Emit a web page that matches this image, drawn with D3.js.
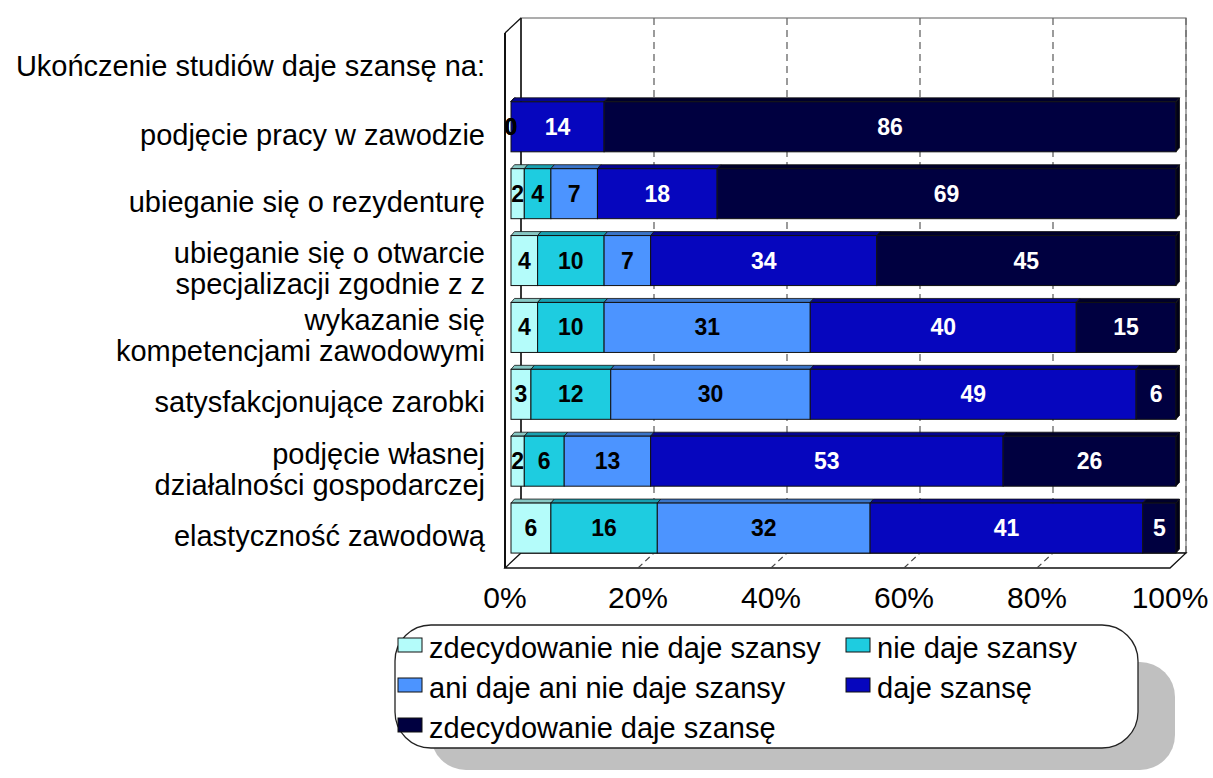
<!DOCTYPE html>
<html>
<head>
<meta charset="utf-8">
<script src="https://cdn.jsdelivr.net/npm/d3@7"></script>
<style>
  body { margin: 0; background: #fff; }
  svg { display: block; font-family: "Liberation Sans", Arial, sans-serif; }
</style>
</head>
<body>
<svg id="chart" width="1213" height="778"></svg>
<script>
// header row sits in the first band, bars in the other seven
const headerLabel = "Ukończenie studiów daje szansę na:";
const rowLabels = [
  ["podjęcie pracy w zawodzie"],
  ["ubieganie się o rezydenturę "],
  ["ubieganie się o otwarcie ", "specjalizacji zgodnie z z"],
  ["wykazanie się", "kompetencjami zawodowymi"],
  ["satysfakcjonujące zarobki"],
  ["podjęcie własnej", "działalności gospodarczej"],
  ["elastyczność zawodową"]
];
const seriesNames = [
  "zdecydowanie nie daje szansy",
  "nie daje szansy",
  "ani daje ani nie daje szansy",
  "daje szansę",
  "zdecydowanie daje szansę"
];
const zdecydowanieNie = [0, 2, 4, 4, 3, 2, 6];
const nieDaje = [0, 4, 10, 10, 12, 6, 16];
const aniDajeAniNie = [0, 7, 7, 31, 30, 13, 32];
const daje = [14, 18, 34, 40, 49, 53, 41];
const zdecydowanieDaje = [86, 69, 45, 15, 6, 26, 5];
const tickValues = [0, 20, 40, 60, 80, 100];

const fills = ["#b4fcfa", "#1ecce0", "#4c94ff", "#0606be", "#000040"];
const tops = ["#86c8c4", "#18a0b0", "#3a74c8", "#040490", "#00002a"];
const textFill = ["#000", "#000", "#000", "#fff", "#fff"];

const svg = d3.select("#chart");

const table = rowLabels.map((l, i) => ({
  key: i,
  s0: zdecydowanieNie[i], s1: nieDaje[i], s2: aniDajeAniNie[i],
  s3: daje[i], s4: zdecydowanieDaje[i]
}));
const keys = ["s0", "s1", "s2", "s3", "s4"];
const stacked = d3.stack().keys(keys)(table);

// front plane of the 3d box
const x = d3.scaleLinear().domain([0, 100]).range([505, 1170]);
const y = d3.scaleBand().domain(d3.range(8)).range([33, 568]);
const depth = { dx: 16, dy: -15 };   // front -> back wall
const barOff = { dx: 6, dy: -6.5 };  // front -> bar front face
const barDepth = { dx: 3.5, dy: -4 };
const barH = 50;

const yTop = y.range()[0], yBot = y.range()[1];

// back wall
const grid = svg.append("g");
grid.append("rect")
  .attr("x", x(0) + depth.dx).attr("y", yTop + depth.dy)
  .attr("width", x(100) - x(0)).attr("height", yBot - yTop)
  .attr("fill", "#fff").attr("stroke", "#777").attr("stroke-width", 1.2);

grid.selectAll("line.vgrid")
  .data(tickValues.slice(1))
  .join("line")
  .attr("class", "vgrid")
  .attr("x1", d => x(d) + depth.dx).attr("x2", d => x(d) + depth.dx)
  .attr("y1", yTop + depth.dy).attr("y2", yBot + depth.dy)
  .attr("stroke", "#666").attr("stroke-width", 1.3)
  .attr("stroke-dasharray", "7,5");

// back wall left edge
grid.append("line")
  .attr("x1", x(0) + depth.dx).attr("x2", x(0) + depth.dx)
  .attr("y1", yTop + depth.dy).attr("y2", yBot + depth.dy)
  .attr("stroke", "#111").attr("stroke-width", 1.5);

// floor
grid.append("path")
  .attr("d", `M${x(0)},${yBot} L${x(100)},${yBot} L${x(100) + depth.dx},${yBot + depth.dy} L${x(0) + depth.dx},${yBot + depth.dy} Z`)
  .attr("fill", "#fff").attr("stroke", "#111").attr("stroke-width", 1.3);

grid.selectAll("line.fgrid")
  .data(tickValues.slice(1, -1))
  .join("line")
  .attr("class", "fgrid")
  .attr("x1", d => x(d)).attr("y1", yBot)
  .attr("x2", d => x(d) + depth.dx).attr("y2", yBot + depth.dy)
  .attr("stroke", "#444").attr("stroke-width", 1.2)
  .attr("stroke-dasharray", "6,4");

// left wall
grid.append("line")
  .attr("x1", x(0)).attr("x2", x(0) + depth.dx)
  .attr("y1", yTop).attr("y2", yTop + depth.dy)
  .attr("stroke", "#111").attr("stroke-width", 1.3);
grid.append("line")
  .attr("x1", x(0)).attr("x2", x(0))
  .attr("y1", yTop).attr("y2", yBot)
  .attr("stroke", "#111").attr("stroke-width", 2);

// bars
const bars = svg.append("g");
const barY = i => y(i + 1) + y.bandwidth() / 2 + barOff.dy - barH / 2;
const bx = v => x(v) + barOff.dx;

stacked.forEach((layer, si) => {
  const g = bars.append("g");
  g.selectAll("path.top")
    .data(layer)
    .join("path")
    .attr("class", "top")
    .attr("d", (d, i) => {
      const x0 = bx(d[0]), x1 = bx(d[1]), yy = barY(i);
      return `M${x0},${yy} L${x1},${yy} L${x1 + barDepth.dx},${yy + barDepth.dy} L${x0 + barDepth.dx},${yy + barDepth.dy} Z`;
    })
    .attr("fill", tops[si]).attr("stroke", "#111").attr("stroke-width", 0.8);
  g.selectAll("rect")
    .data(layer)
    .join("rect")
    .attr("x", d => bx(d[0]))
    .attr("y", (d, i) => barY(i))
    .attr("width", d => bx(d[1]) - bx(d[0]))
    .attr("height", barH)
    .attr("fill", fills[si]).attr("stroke", "#111").attr("stroke-width", 1);
});

// right side faces
bars.selectAll("path.side")
  .data(table)
  .join("path")
  .attr("class", "side")
  .attr("d", (d, i) => {
    const x1 = bx(100), yy = barY(i);
    return `M${x1},${yy} L${x1 + barDepth.dx},${yy + barDepth.dy} L${x1 + barDepth.dx},${yy + barH + barDepth.dy} L${x1},${yy + barH} Z`;
  })
  .attr("fill", "#000018").attr("stroke", "#111").attr("stroke-width", 0.8);

// value labels
stacked.forEach((layer, si) => {
  bars.append("g").selectAll("text")
    .data(layer)
    .join("text")
    .attr("x", d => (bx(d[0]) + bx(d[1])) / 2)
    .attr("y", (d, i) => barY(i) + barH / 2 + 8)
    .attr("text-anchor", "middle")
    .attr("font-size", "23px")
    .attr("font-weight", "bold")
    .attr("fill", d => (d[1] - d[0] === 0 ? "#000" : textFill[si]))
    .text(d => d[1] - d[0]);
});

// category labels
const labels = svg.append("g")
  .attr("font-size", "29px").attr("fill", "#000").attr("text-anchor", "end")
  .style("white-space", "pre");
const allLabels = [[headerLabel]].concat(rowLabels);
allLabels.forEach((lines, i) => {
  const cy = y(i) + y.bandwidth() / 2 + (i === 0 ? 9.5 : 11.5);
  lines.forEach((line, j) => {
    labels.append("text")
      .attr("x", 485)
      .attr("y", cy + (j - (lines.length - 1) / 2) * 31)
      .text(line);
  });
});

// x axis labels
svg.append("g").selectAll("text")
  .data(tickValues)
  .join("text")
  .attr("x", d => x(d))
  .attr("y", 608)
  .attr("text-anchor", "middle")
  .attr("font-size", "30px")
  .text(d => d + "%");

// legend
const legend = svg.append("g");
legend.append("rect")
  .attr("x", 431).attr("y", 662).attr("width", 744).attr("height", 108)
  .attr("rx", 35).attr("ry", 35).attr("fill", "#c0c0c0");
legend.append("rect")
  .attr("x", 395).attr("y", 625).attr("width", 743).attr("height", 123)
  .attr("rx", 36).attr("ry", 36).attr("fill", "#fff")
  .attr("stroke", "#222").attr("stroke-width", 1.3);

const legendPos = [[398, 658], [846, 658], [398, 698], [846, 698], [398, 738]];
const items = legend.selectAll("g.item")
  .data(seriesNames)
  .join("g")
  .attr("class", "item")
  .attr("transform", (d, i) => `translate(${legendPos[i][0]},${legendPos[i][1]})`);
items.append("rect")
  .attr("x", 0).attr("y", -20).attr("width", 24).attr("height", 14)
  .attr("fill", (d, i) => fills[i]).attr("stroke", "#111").attr("stroke-width", 1);
items.append("text")
  .attr("x", 31).attr("y", 0)
  .attr("font-size", "29px")
  .text(d => d);
</script>
</body>
</html>
